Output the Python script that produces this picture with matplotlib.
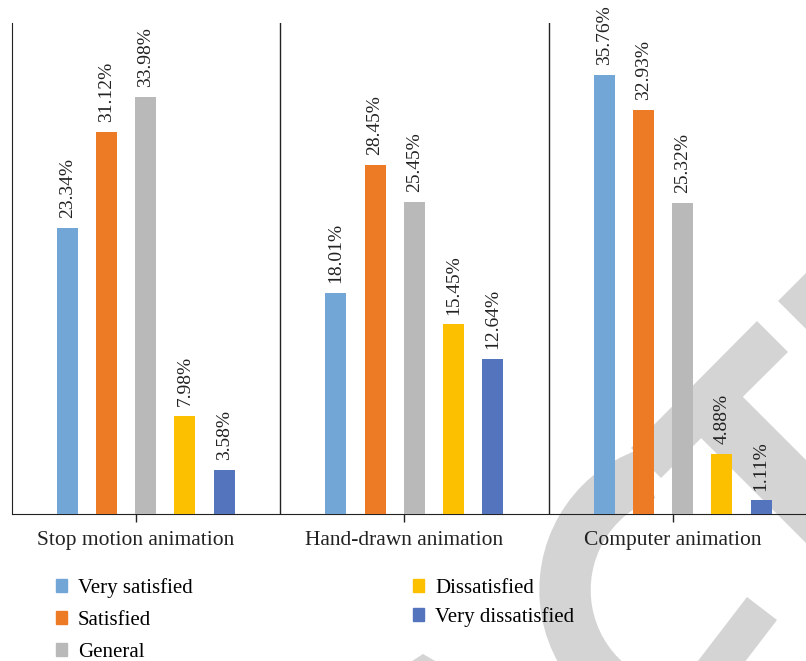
import numpy as np
import matplotlib.pyplot as plt
from matplotlib.patches import Patch, Wedge, Polygon

categories = ["Stop motion animation", "Hand-drawn animation", "Computer animation"]
series = ["Very satisfied", "Satisfied", "General", "Dissatisfied", "Very dissatisfied"]
very_satisfied = [23.34, 18.01, 35.76]
satisfied = [31.12, 28.45, 32.93]
general = [33.98, 25.45, 25.32]
dissatisfied = [7.98, 15.45, 4.88]
very_dissatisfied = [3.58, 12.64, 1.11]

colors = ["#72A6D7", "#ED7B26", "#B9B9B9", "#FCC000", "#5474BD"]

plt.rcParams["font.family"] = ["Liberation Serif", "DejaVu Serif"]

fig = plt.figure(figsize=(8.06, 6.61), dpi=100)
W, H = 806, 661

# light watermark in the background (pixel coordinates)
wm = fig.add_axes([0, 0, 1, 1], zorder=0)
wm.set_xlim(0, W)
wm.set_ylim(H, 0)
wm.axis("off")
wm_col = "#D4D4D4"
# image y points down, so wedge angles are mirrored
wm.add_patch(Wedge((688, 590), 148, 90, 250, width=50, color=wm_col))
shapes = [
    [(757, 321), (788, 352), (661, 478), (631, 448)],
    [(720, 374), (850, 504), (850, 587), (686, 423)],
    [(778, 301), (830, 249), (830, 353)],
    [(747, 597), (777, 620), (708, 710), (678, 687)],
    [(423, 654), (442, 665), (406, 665)],
]
for pts in shapes:
    wm.add_patch(Polygon(pts, closed=True, color=wm_col, lw=0))

ax = fig.add_axes([11.5 / W, (H - 514) / H, 805.5 / W, 491 / H], zorder=1)
ax.patch.set_alpha(0)

x = np.arange(len(categories))
step = 0.146
width = 0.078
values = [very_satisfied, satisfied, general, dissatisfied, very_dissatisfied]
for k, (name, vals, col) in enumerate(zip(series, values, colors)):
    pos = x + (k - 2) * step
    bars = ax.bar(pos, vals, width=width, color=col, label=name, zorder=3)
    for b, v in zip(bars, vals):
        ax.annotate(f"{v:.2f}%", (b.get_x() + b.get_width() / 2, v),
                    xytext=(0, 7), textcoords="offset points",
                    rotation=90, ha="center", va="bottom", fontsize=14,
                    color="#222222", zorder=4)

# group dividers
for d in x[:-1] + 0.5:
    ax.axvline(d, color="#222222", lw=1.0, zorder=2)

ax.set_xlim(-0.5, 2.5)
ax.set_ylim(0, 40)
ax.set_xticks(x - 0.037)
ax.set_xticklabels(categories, fontsize=15.5, color="#222222")
ax.tick_params(axis="x", length=6, width=1, color="#222222", pad=6)
ax.set_yticks([])
for s in ["top", "right"]:
    ax.spines[s].set_visible(False)
ax.spines["left"].set_color("#222222")
ax.spines["bottom"].set_color("#222222")

handles = [Patch(color=c) for c in colors]
leg_kw = dict(frameon=False, fontsize=15, handlelength=0.55, handleheight=0.55,
              handletextpad=0.5, borderaxespad=0, borderpad=0)
fig.legend(handles[:3], series[:3], loc="upper left",
           bbox_to_anchor=(56 / W, 1 - 578 / H), labelspacing=0.62, **leg_kw)
fig.legend(handles[3:], series[3:], loc="upper left",
           bbox_to_anchor=(413 / W, 1 - 579 / H), labelspacing=0.42, **leg_kw)

fig.savefig("out.png", dpi=100)
